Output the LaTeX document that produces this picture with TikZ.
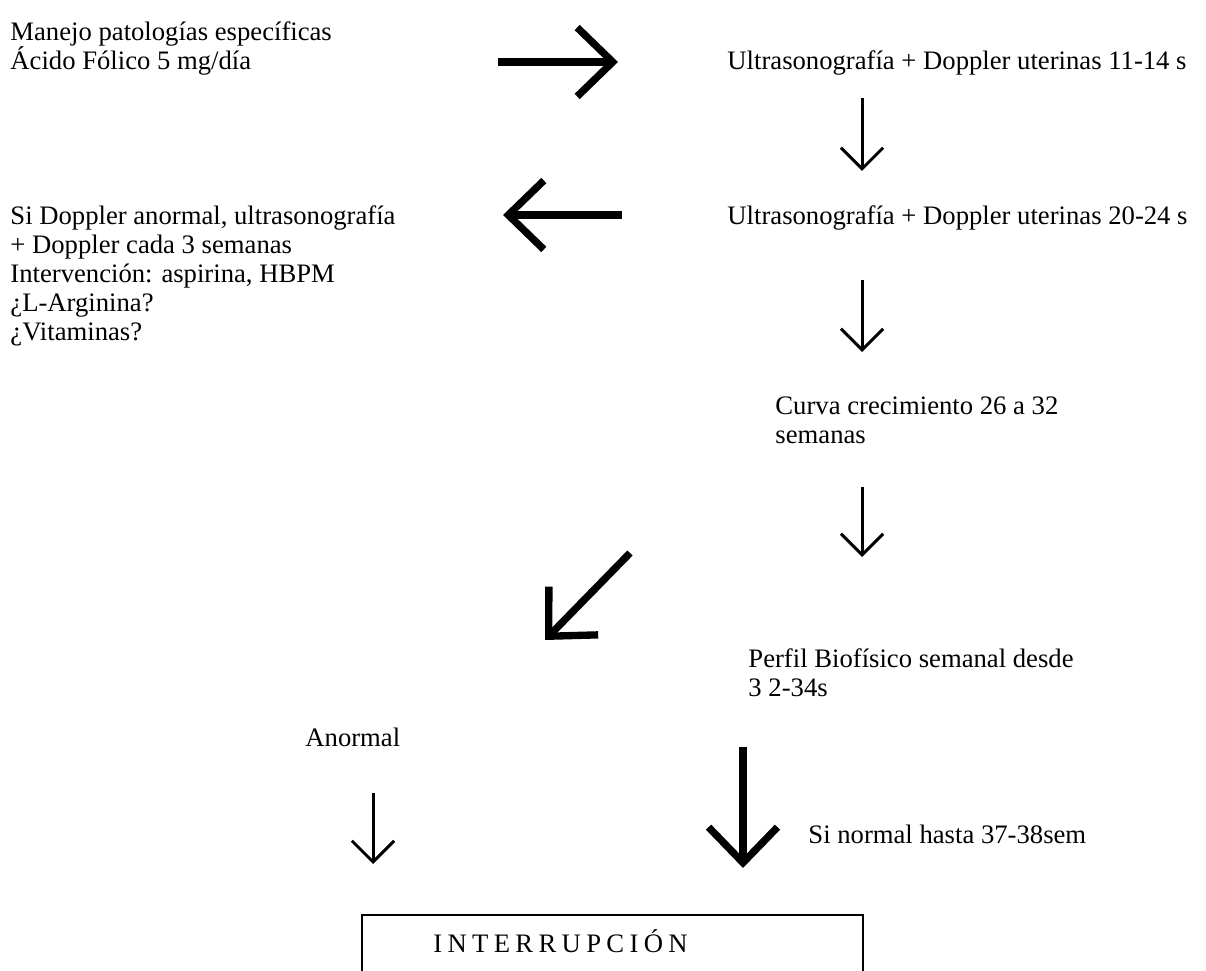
\documentclass[tikz,border=0pt]{standalone}
\usepackage{fontspec}
\setmainfont{Liberation Serif}
\usetikzlibrary{arrows.meta}

\begin{document}
\begin{tikzpicture}[x = 0.45pt, y = -0.45pt, font = \fontsize{12}{13.05}\selectfont]
	\tikzstyle{textStyle} = [anchor = base west, inner sep = 0pt, align = left]
	\tikzstyle{thickArrow} = [line width = 3.3pt, -{Straight Barb[length = 16pt, width = 31pt]}]
	\tikzstyle{thinArrow} = [line width = 1.35pt, -{Straight Barb[length = 9.5pt, width = 19pt]}]
	\clip (0,0) rectangle (1206,971);
	% texts (base = last line)
	\node[textStyle] (manejo) at (10,70) {Manejo patologías específicas\\Ácido Fólico 5 mg/día};
	\node[textStyle] (eco1) at (727,70) {Ultrasonografía + Doppler uterinas 11-14 s};
	\node[textStyle] (eco2) at (727,225) {Ultrasonografía + Doppler uterinas 20-24 s};
	\node[textStyle] (doppler) at (10,341) {Si Doppler anormal, ultrasonografía\\+ Doppler cada 3 semanas\\Intervención: aspirina, HBPM\\¿L-Arginina?\\¿Vitaminas?};
	\node[textStyle] (curva) at (775,444) {Curva crecimiento 26 a 32\\semanas};
	\node[textStyle] (perfil) at (748,697) {Perfil Biofísico semanal desde\\3 2-34s};
	\node[textStyle] (anormal) at (305,747) {Anormal};
	\node[textStyle] (normal) at (808,844) {Si normal hasta 37-38sem};
	\node[textStyle] (interr) at (433,953) {\spaceskip=0.2em I N T E R R U P C I Ó N};
	\draw[line width = 0.9pt] (362,1000) |- (863,915) -- (863,1000);
	% arrow ends
	\coordinate (a1) at (498,62);   \coordinate (b1) at (618,62);
	\coordinate (a2) at (862,98);   \coordinate (b2) at (862,171);
	\coordinate (a3) at (622,215);  \coordinate (b3) at (503,215);
	\coordinate (a4) at (862,280);  \coordinate (b4) at (862,352);
	\coordinate (a5) at (862,487);  \coordinate (b5) at (862,557);
	\coordinate (a6) at (630,553);  \coordinate (b6) at (545,640);
	\coordinate (a7) at (373,793);  \coordinate (b7) at (373,864);
	\coordinate (a8) at (743,747);  \coordinate (b8) at (743,868);
	\draw[thickArrow] (a1) -- (b1);
	\draw[thinArrow] (a2) -- (b2);
	\draw[thickArrow] (a3) -- (b3);
	\draw[thinArrow] (a4) -- (b4);
	\draw[thinArrow] (a5) -- (b5);
	\draw[thickArrow] (a6) -- (b6);
	\draw[thinArrow] (a7) -- (b7);
	\draw[thickArrow] (a8) -- (b8);
\end{tikzpicture}
\end{document}
